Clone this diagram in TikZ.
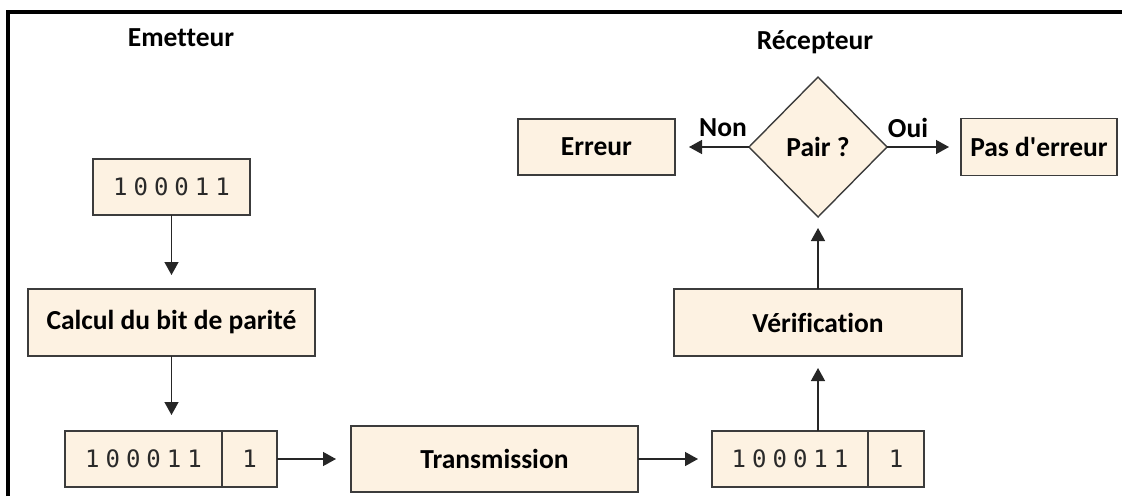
\documentclass[tikz,border=0pt]{standalone}
\usepackage{fontspec}
\setmainfont{Carlito}[Ligatures={NoCommon,TeXOff}]
\newfontfamily\bitsfont[LetterSpace=25]{DejaVu Sans Mono}
\usetikzlibrary{arrows.meta,shapes.geometric}
\definecolor{boxfill}{HTML}{FDF2E2}
\definecolor{boxline}{HTML}{3C3C3C}
\definecolor{bitink}{HTML}{2A2A2A}

\begin{document}
\begin{tikzpicture}[x=1pt,y=-1pt,
  every node/.style={inner sep=0pt, outer sep=0pt},
  labelfont/.style={font=\bfseries\fontsize{27.5}{32}\selectfont},
  stepbox/.style={labelfont, draw=boxline, fill=boxfill, line width=1.4pt},
  bitbox/.style={draw=boxline, fill=boxfill, line width=1.4pt, text=bitink,
    font=\bitsfont\fontsize{24}{28}\selectfont, minimum height=56pt},
  decision/.style={stepbox, diamond, minimum width=138pt, minimum height=140pt},
  arr/.style={line width=1.4pt, draw=black!85, -{Triangle[length=13pt,width=14pt]}}]

\useasboundingbox (0,0) rectangle (1122,496);

% outer frame (left and top edges)
\draw[line width=4pt, line join=miter] (8,496) -- (8,12) -- (1122,12);

% titles
\node[labelfont] (emetteur) at (181,38) {Emetteur};
\node[labelfont] (recepteur) at (815,42) {Récepteur};

% sender side
\node[bitbox, minimum width=157pt] (top) at (171.5,187) {100011};
\node[stepbox, minimum width=287pt, minimum height=67pt] (calc) at (171.5,322.5) {Calcul du bit de parité};
\node[bitbox, minimum width=157pt] (lbits) at (143.5,459) {100011};
\node[bitbox, minimum width=55pt] (lpar) at (249.5,459) {1};

% channel
\node[stepbox, minimum width=287pt, minimum height=66pt] (trans) at (494.5,459) {Transmission};

% receiver side
\node[bitbox, minimum width=156pt] (rbits) at (790,459) {100011};
\node[bitbox, minimum width=56pt] (rpar) at (896,459) {1};
\node[stepbox, minimum width=288pt, minimum height=67pt] (verif) at (818,322.5) {Vérification};
\node[decision] (pair) at (818,147) {Pair ?};
\node[stepbox, minimum width=157pt, minimum height=56pt] (err) at (596.5,147) {Erreur};
\node[stepbox, minimum width=156pt, minimum height=57pt] (pas) at (1039,147) {Pas d'erreur};

% branch labels
\node[labelfont] (non) at (723,128) {Non};
\node[labelfont] (oui) at (908,128) {Oui};

% flow
\draw[arr, shorten >=14pt] (top) -- (calc);
\draw[arr, shorten >=16pt] (calc) -- (calc.south |- lbits.north);
\draw[arr, shorten >=15pt] (lpar) -- (trans);
\draw[arr, shorten >=14pt] (trans) -- (rbits);
\draw[arr, shorten >=12pt] (verif.south |- rbits.north) -- (verif);
\draw[arr, shorten >=11pt] (verif) -- (pair);
\draw[arr, shorten >=14pt] (pair) -- (err);
\draw[arr, shorten >=12pt] (pair) -- (pas);
\end{tikzpicture}
\end{document}
